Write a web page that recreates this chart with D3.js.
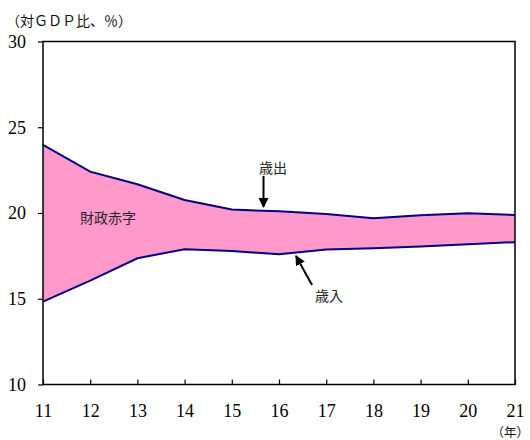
<!DOCTYPE html>
<html>
<head>
<meta charset="utf-8">
<script src="https://cdn.jsdelivr.net/npm/d3@7"></script>
<style>
  html, body { margin: 0; padding: 0; background: #fff; }
  svg { display: block; }
</style>
</head>
<body>
<svg id="chart" width="530" height="440"></svg>
<script>
// Fiscal years on the x axis
const years = [11, 12, 13, 14, 15, 16, 17, 18, 19, 20, 21];
// Expenditure (歳出), % of GDP
const expenditure = [23.97, 22.41, 21.68, 20.76, 20.2, 20.1, 19.94, 19.7, 19.87, 19.99, 19.89];
// Revenue (歳入), % of GDP
const revenue = [14.83, 16.06, 17.36, 17.89, 17.78, 17.6, 17.87, 17.94, 18.04, 18.18, 18.3];
const yTicks = [10, 15, 20, 25, 30];

const svg = d3.select("#chart");
const margin = { left: 43, right: 15, top: 41.5, bottom: 55.5 };
const W = 530, H = 440;
const cjk = "'Noto Sans CJK JP', sans-serif";
const serif = "'Liberation Serif', 'Times New Roman', Times, 'DejaVu Serif', serif";

const x = d3.scaleLinear().domain([11, 21]).range([margin.left, W - margin.right]);
const y = d3.scaleLinear().domain([10, 30]).range([H - margin.bottom, margin.top]);

const rows = years.map((yr, i) => ({ yr, hi: expenditure[i], lo: revenue[i] }));

// Deficit band between the two series
svg.append("path")
  .datum(rows)
  .attr("fill", "#ff99cc")
  .attr("d", d3.area().x(d => x(d.yr)).y0(d => y(d.lo)).y1(d => y(d.hi)));

const line = key => d3.line().x(d => x(d.yr)).y(d => y(d[key]));
["hi", "lo"].forEach(k => {
  svg.append("path")
    .datum(rows)
    .attr("fill", "none")
    .attr("stroke", "#000080")
    .attr("stroke-width", 2)
    .attr("d", line(k)(rows));
});

// Frame
svg.append("rect")
  .attr("x", x(11)).attr("y", y(30))
  .attr("width", x(21) - x(11)).attr("height", y(10) - y(30))
  .attr("fill", "none").attr("stroke", "#000").attr("stroke-width", 1.5);

// Left axis: outward ticks
const yAxis = svg.append("g")
  .attr("transform", `translate(${x(11)},0)`)
  .call(d3.axisLeft(y).tickValues(yTicks).tickSize(5).tickPadding(12).tickFormat(d3.format("d")));
yAxis.select(".domain").remove();
yAxis.selectAll("line").attr("stroke", "#000").attr("stroke-width", 1.2);
yAxis.selectAll("text")
  .style("font-family", serif).style("font-size", "18px").attr("fill", "#000");

// Bottom axis: inward ticks
const xAxis = svg.append("g")
  .attr("transform", `translate(0,${y(10)})`)
  .call(d3.axisBottom(x).tickValues(years).tickSize(-5).tickPadding(20).tickFormat(d3.format("d")));
xAxis.select(".domain").remove();
xAxis.selectAll("line").attr("stroke", "#000").attr("stroke-width", 1.2);
xAxis.selectAll("text")
  .style("font-family", serif).style("font-size", "18px").attr("fill", "#000");

// Unit labels
svg.append("text").attr("x", 6).attr("y", 20)
  .attr("dominant-baseline", "central")
  .attr("font-family", cjk).attr("font-size", 14).attr("fill", "#111")
  .text("（対ＧＤＰ比、％）");
svg.append("text").attr("x", 529).attr("y", 431).attr("text-anchor", "end")
  .attr("dominant-baseline", "central")
  .attr("font-family", cjk).attr("font-size", 12.5).attr("fill", "#111")
  .text("（年）");

// Annotations
svg.append("text").attr("x", 108).attr("y", 217).attr("text-anchor", "middle")
  .attr("dominant-baseline", "central")
  .attr("font-family", cjk).attr("font-size", 14).attr("fill", "#222")
  .text("財政赤字");

svg.append("text").attr("x", 273).attr("y", 167).attr("text-anchor", "middle")
  .attr("dominant-baseline", "central")
  .attr("font-family", cjk).attr("font-size", 14).attr("fill", "#222")
  .text("歳出");

svg.append("text").attr("x", 329).attr("y", 295).attr("text-anchor", "middle")
  .attr("dominant-baseline", "central")
  .attr("font-family", cjk).attr("font-size", 14).attr("fill", "#222")
  .text("歳入");

svg.append("defs").append("marker")
  .attr("id", "head").attr("viewBox", "0 0 10 10")
  .attr("refX", 9).attr("refY", 5)
  .attr("markerWidth", 5).attr("markerHeight", 5)
  .attr("markerUnits", "strokeWidth")
  .attr("orient", "auto")
  .append("path").attr("d", "M0,0 L10,5 L0,10 Z").attr("fill", "#000");

svg.append("line").attr("x1", 263.5).attr("y1", 176).attr("x2", 263.5).attr("y2", 207)
  .attr("stroke", "#000").attr("stroke-width", 2).attr("marker-end", "url(#head)");
svg.append("line").attr("x1", 312).attr("y1", 285).attr("x2", 296).attr("y2", 256)
  .attr("stroke", "#000").attr("stroke-width", 2).attr("marker-end", "url(#head)");
</script>
</body>
</html>
